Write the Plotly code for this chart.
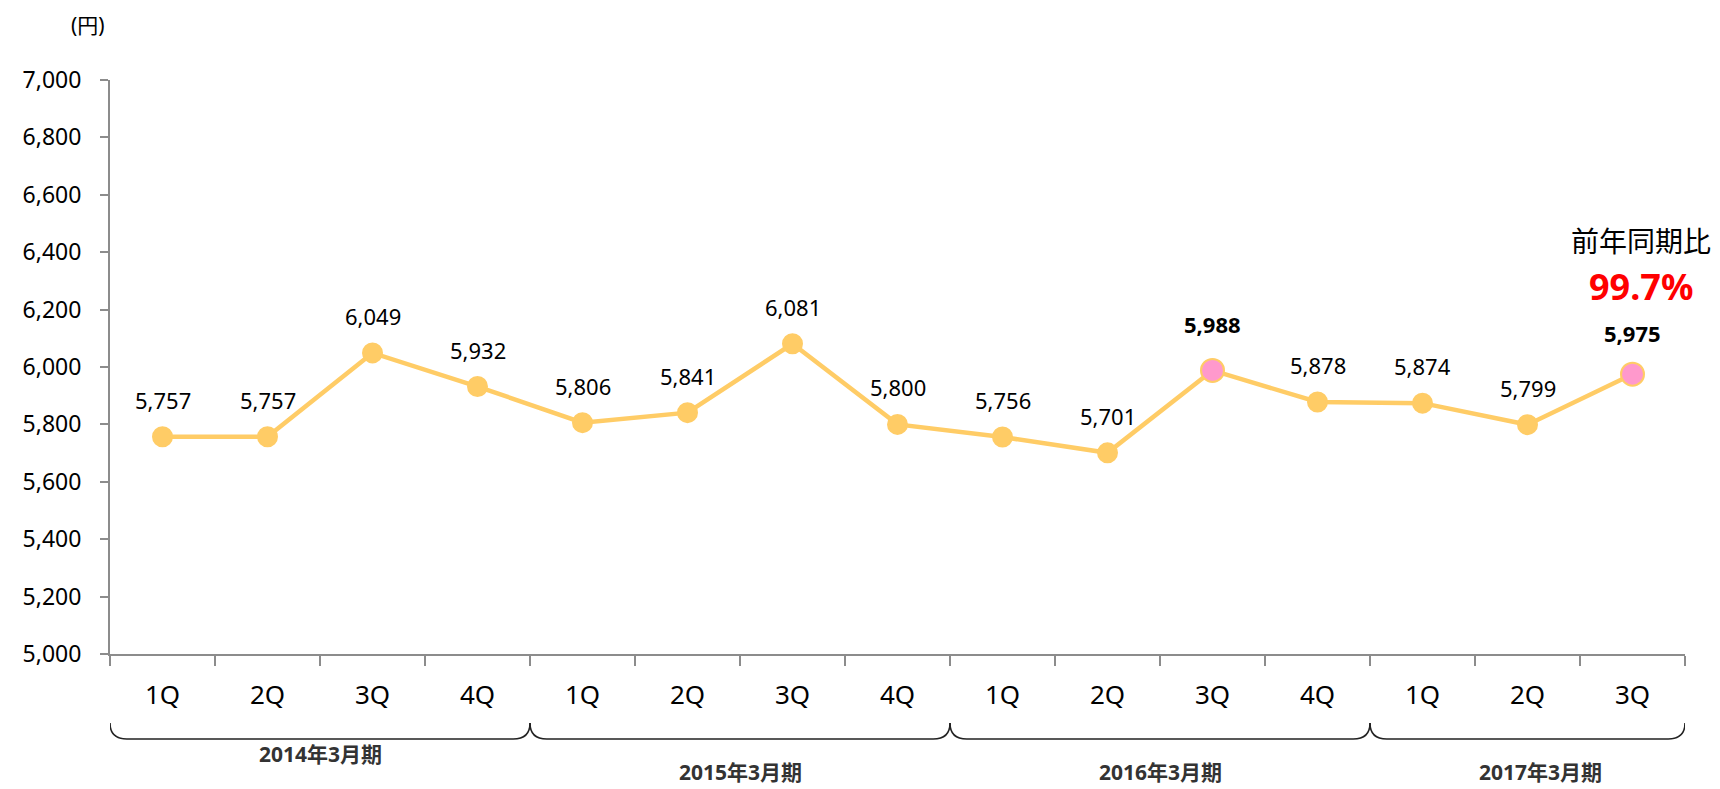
import plotly.graph_objects as go

# ---- data ----
quarters = ["1Q", "2Q", "3Q", "4Q", "1Q", "2Q", "3Q", "4Q", "1Q", "2Q", "3Q", "4Q", "1Q", "2Q", "3Q"]
fiscal_years = ["2014年3月期"] * 4 + ["2015年3月期"] * 4 + ["2016年3月期"] * 4 + ["2017年3月期"] * 3
values = [5757, 5757, 6049, 5932, 5806, 5841, 6081, 5800, 5756, 5701, 5988, 5878, 5874, 5799, 5975]
highlight = [False] * 10 + [True] + [False] * 3 + [True]
yoy_label = "前年同期比"
yoy_value = "99.7%"
y_ticks = [5000, 5200, 5400, 5600, 5800, 6000, 6200, 6400, 6600, 6800, 7000]

LINE = "#FFCC66"
PINK = "#FF99CC"
FONT = "Noto Sans, Noto Sans CJK JP, sans-serif"

xs = list(range(len(values)))
label_shift = [37] * 10 + [46] + [37] * 3 + [41]

fig = go.Figure()
fig.add_trace(go.Scatter(
    x=xs, y=values, mode="lines+markers",
    line=dict(color=LINE, width=4.5),
    marker=dict(
        color=[PINK if h else LINE for h in highlight],
        size=[23 if h else 19 for h in highlight],
        opacity=1,
        line=dict(color=LINE, width=2),
    ),
    hoverinfo="skip", showlegend=False,
))

annotations = []
for x, v, h, s in zip(xs, values, highlight, label_shift):
    txt = f"{v:,}"
    annotations.append(dict(
        x=x, y=v, xref="x", yref="y",
        text=f"<b>{txt}</b>" if h else txt,
        showarrow=False, yshift=s,
        xanchor="center", yanchor="middle",
        font=dict(size=22, color="#000000", family=FONT),
    ))

# fiscal-year braces and labels
groups = []
for i, fy in enumerate(fiscal_years):
    if not groups or groups[-1][0] != fy:
        groups.append([fy, i, i])
    else:
        groups[-1][2] = i

shapes = []
ytop, ybot = -0.12, -0.148
r = 0.16
for gi, (fy, a, b) in enumerate(groups):
    xa, xb = a - 0.5, b + 0.5
    path = (f"M {xa},{ytop} Q {xa},{ybot} {xa + r},{ybot} "
            f"L {xb - r},{ybot} Q {xb},{ybot} {xb},{ytop}")
    shapes.append(dict(type="path", path=path, xref="x", yref="paper",
                       line=dict(color="#222222", width=1.6)))
    annotations.append(dict(
        x=(a + b) / 2, y=-0.175 if gi == 0 else -0.205, xref="x", yref="paper",
        xshift=13 if gi == len(groups) - 1 else 0,
        text=f"<b>{fy}</b>", showarrow=False, xanchor="center", yanchor="middle",
        borderpad=0,
        font=dict(size=21, color="#333333", family=FONT),
    ))

annotations += [
    dict(x=-0.014, y=1.095, xref="paper", yref="paper", text="(円)", showarrow=False,
         xanchor="center", yanchor="middle", borderpad=0,
         font=dict(size=21, color="#000000", family=FONT)),
    dict(x=0.972, y=0.7195, xref="paper", yref="paper", text=yoy_label, showarrow=False,
         xanchor="center", yanchor="middle",
         font=dict(size=28, color="#000000", family=FONT)),
    dict(x=0.972, y=0.641, xref="paper", yref="paper", text=f"<b>{yoy_value}</b>", showarrow=False,
         xanchor="center", yanchor="middle",
         font=dict(size=36, color="#FF0000", family=FONT)),
]

fig.update_layout(
    width=1712, height=781,
    margin=dict(l=102, r=35, t=72, b=135),
    paper_bgcolor="white", plot_bgcolor="white",
    font=dict(family=FONT, color="#000000"),
    xaxis=dict(
        range=[-0.5, len(values) - 0.5],
        tickvals=xs, ticktext=quarters, ticks="",
        tickfont=dict(size=26, color="#000000"),
        showline=True, linecolor="#8C8C8C", linewidth=2,
        showgrid=False, zeroline=False, ticklabelstandoff=17,
        minor=dict(tickvals=[i - 0.5 for i in range(len(values) + 1)],
                   ticks="outside", ticklen=10, tickcolor="#8C8C8C", tickwidth=1.5,
                   showgrid=False),
    ),
    yaxis=dict(
        range=[5000, 7000], tickvals=y_ticks, ticktext=[f"{t:,}" for t in y_ticks],
        ticks="outside", ticklen=8, tickcolor="#8C8C8C", tickwidth=1.5,
        tickfont=dict(size=23, color="#000000"),
        showline=True, linecolor="#8C8C8C", linewidth=2,
        showgrid=False, zeroline=False, ticklabelstandoff=14,
    ),
    shapes=shapes, annotations=annotations,
)

fig.write_html("out.html")
